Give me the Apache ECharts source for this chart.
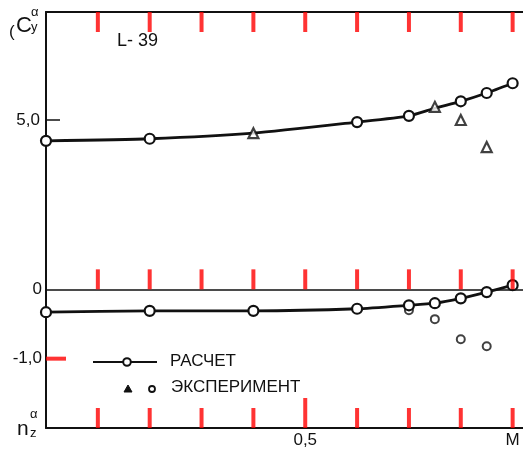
<!DOCTYPE html>
<html>
<head>
<meta charset="utf-8">
<script src="https://cdn.jsdelivr.net/npm/echarts@6/dist/echarts.min.js"></script>
<style>
html,body{margin:0;padding:0;background:#fff;}
#chart{width:523px;height:452px;}
</style>
</head>
<body>
<div id="chart"></div>
<script>
// ---- data ----
const machCalc = [0, 0.2, 0.4, 0.6, 0.7, 0.75, 0.8, 0.85, 0.9];
const cyCalc   = [4.70, 4.73, 4.81, 4.97, 5.06, 5.17, 5.27, 5.39, 5.53];
const nzCalc   = [-0.33, -0.31, -0.31, -0.28, -0.23, -0.20, -0.13, -0.04, 0.06];

const machCyExp = [0.4, 0.75, 0.8, 0.85];
const cyExp     = [4.81, 5.19, 5.00, 4.61];

const machNzExp = [0.7, 0.75, 0.8, 0.85];
const nzExp     = [-0.30, -0.43, -0.72, -0.82];

const xTicks = [0.1, 0.2, 0.3, 0.4, 0.5, 0.6, 0.7, 0.8, 0.9];
const xMajorTick = 0.5;
const xTickLabels = {0.5: '0,5', 0.9: 'M'};
const nzTickLabels = {0: '0', '-1': '-1,0'};
const cyTickLabels = {5: '5,0'};

const NZ_MIN = -2, NZ_MAX = 4;
const CY_MIN = 0.558, CY_MAX = 6.558;

const chart = echarts.init(document.getElementById('chart'), null, {renderer: 'canvas'});
const FONT = 'Liberation Sans';
const BLACK = '#111';

const zip = (a, b) => a.map((v, i) => [v, b[i]]);
const cyHidden = machCalc.map(m => {
  const j = machCyExp.indexOf(m);
  return j >= 0 && Math.abs(cyExp[j] - cyCalc[machCalc.indexOf(m)]) < 0.05;
});

const xBase = {
  type: 'value', min: 0, max: 0.92, gridIndex: 0,
  splitLine: {show: false}, axisTick: {show: false}
};

function tickSeries(data, size, offset) {
  return {
    type: 'scatter', xAxisIndex: 0, yAxisIndex: 0, data: data,
    symbol: 'rect', symbolSize: size, symbolOffset: offset,
    itemStyle: {color: 'red', borderWidth: 0}, clip: false, z: 10
  };
}
const minorX = xTicks.filter(v => Math.abs(v - xMajorTick) > 1e-6);

const option = {
  animation: false,
  backgroundColor: '#fff',
  grid: {left: 46, top: 12, width: 477, height: 416, containLabel: false},
  xAxis: [
    Object.assign({}, xBase, {
      position: 'bottom',
      axisLine: {show: true, onZero: false, lineStyle: {color: BLACK, width: 2}},
      axisLabel: {show: true, customValues: [0.5, 0.9], formatter: v => xTickLabels[Math.round(v * 10) / 10] || '',
        color: BLACK, fontFamily: FONT, fontSize: 17, margin: 4}
    }),
    Object.assign({}, xBase, {
      position: 'top',
      axisLine: {show: true, onZero: false, lineStyle: {color: BLACK, width: 2}},
      axisLabel: {show: false}
    }),
    Object.assign({}, xBase, {
      position: 'bottom',
      axisLine: {show: true, onZero: true, onZeroAxisIndex: 0, lineStyle: {color: BLACK, width: 1.5}},
      axisLabel: {show: false}
    })
  ],
  yAxis: [
    {
      type: 'value', min: NZ_MIN, max: NZ_MAX, position: 'left',
      splitLine: {show: false},
      axisLine: {show: true, onZero: false, lineStyle: {color: BLACK, width: 2}},
      axisTick: {show: false},
      axisLabel: {show: true, customValues: [0, -1], formatter: v => nzTickLabels[Math.round(v)] || '',
        color: BLACK, fontFamily: FONT, fontSize: 17, margin: 4}
    },
    {
      type: 'value', min: CY_MIN, max: CY_MAX, position: 'left',
      splitLine: {show: false},
      axisLine: {show: false, onZero: false},
      axisTick: {show: true, inside: true, length: 14, customValues: [5], lineStyle: {color: BLACK, width: 1.5}},
      axisLabel: {show: true, customValues: [5], formatter: v => cyTickLabels[Math.round(v)] || '',
        color: BLACK, fontFamily: FONT, fontSize: 17, margin: 6}
    }
  ],
  series: [
    tickSeries(xTicks.map(v => [v, NZ_MAX]), [4, 20], [0, 10]),
    tickSeries(xTicks.map(v => [v, 0]), [4, 20], [0, -10]),
    tickSeries(minorX.map(v => [v, NZ_MIN]), [4, 20], [0, -10]),
    tickSeries([[xMajorTick, NZ_MIN]], [4, 30], [0, -15]),
    tickSeries([[0, -1]], [20, 4], [10, 0]),
    {
      name: 'cyCalc', type: 'line', xAxisIndex: 0, yAxisIndex: 1,
      data: zip(machCalc, cyCalc), smooth: 0.2,
      symbol: (val, params) => cyHidden[params.dataIndex] ? 'none' : 'circle',
      symbolSize: 10, showAllSymbol: true,
      lineStyle: {color: BLACK, width: 2.8},
      itemStyle: {color: '#fff', borderColor: BLACK, borderWidth: 2.2},
      z: 3
    },
    {
      name: 'cyExp', type: 'scatter', xAxisIndex: 0, yAxisIndex: 1,
      data: zip(machCyExp, cyExp), symbol: 'triangle', symbolSize: [10, 10],
      itemStyle: {color: '#fff', borderColor: BLACK, borderWidth: 2.2}, z: 4
    },
    {
      name: 'nzCalc', type: 'line', xAxisIndex: 0, yAxisIndex: 0,
      data: zip(machCalc, nzCalc), smooth: 0.2,
      symbol: 'circle', symbolSize: 10, showAllSymbol: true,
      lineStyle: {color: BLACK, width: 2.8},
      itemStyle: {color: '#fff', borderColor: BLACK, borderWidth: 2.2},
      z: 3
    },
    {
      name: 'nzExp', type: 'scatter', xAxisIndex: 0, yAxisIndex: 0,
      data: zip(machNzExp, nzExp), symbol: 'circle', symbolSize: 8,
      itemStyle: {color: '#fff', borderColor: BLACK, borderWidth: 2}, z: 2
    }
  ],
  graphic: [
    {type: 'text', left: 9, top: 24, style: {text: '(', font: '17px ' + FONT, fill: BLACK}},
    {type: 'text', left: 16, top: 15, style: {text: 'C', font: '22px ' + FONT, fill: BLACK}},
    {type: 'text', left: 31, top: 6, style: {text: 'α', font: '13px ' + FONT, fill: BLACK}},
    {type: 'text', left: 31, top: 21, style: {text: 'y', font: '13px ' + FONT, fill: BLACK}},
    {type: 'text', left: 17, top: 419, style: {text: 'n', font: '21px ' + FONT, fill: BLACK}},
    {type: 'text', left: 30, top: 408, style: {text: 'α', font: '13px ' + FONT, fill: BLACK}},
    {type: 'text', left: 30, top: 427, style: {text: 'z', font: '13px ' + FONT, fill: BLACK}},
    {type: 'text', left: 117, top: 32, style: {text: 'L- 39', font: '18px ' + FONT, fill: BLACK}},
    {type: 'line', shape: {x1: 93, y1: 362, x2: 157, y2: 362}, style: {stroke: BLACK, lineWidth: 2.2}},
    {type: 'circle', shape: {cx: 127, cy: 362, r: 3.8}, style: {fill: '#fff', stroke: BLACK, lineWidth: 2}},
    {type: 'text', left: 170, top: 353, style: {text: 'РАСЧЕТ', font: '17px ' + FONT, fill: BLACK}},
    {type: 'polygon', shape: {points: [[128, 385], [124, 392], [132, 392]]}, style: {fill: BLACK, stroke: BLACK, lineWidth: 1}},
    {type: 'circle', shape: {cx: 152, cy: 389, r: 3}, style: {fill: '#fff', stroke: BLACK, lineWidth: 1.8}},
    {type: 'text', left: 171, top: 379, style: {text: 'ЭКСПЕРИМЕНТ', font: '17px ' + FONT, fill: BLACK}}
  ]
};
chart.setOption(option);
</script>
</body>
</html>
